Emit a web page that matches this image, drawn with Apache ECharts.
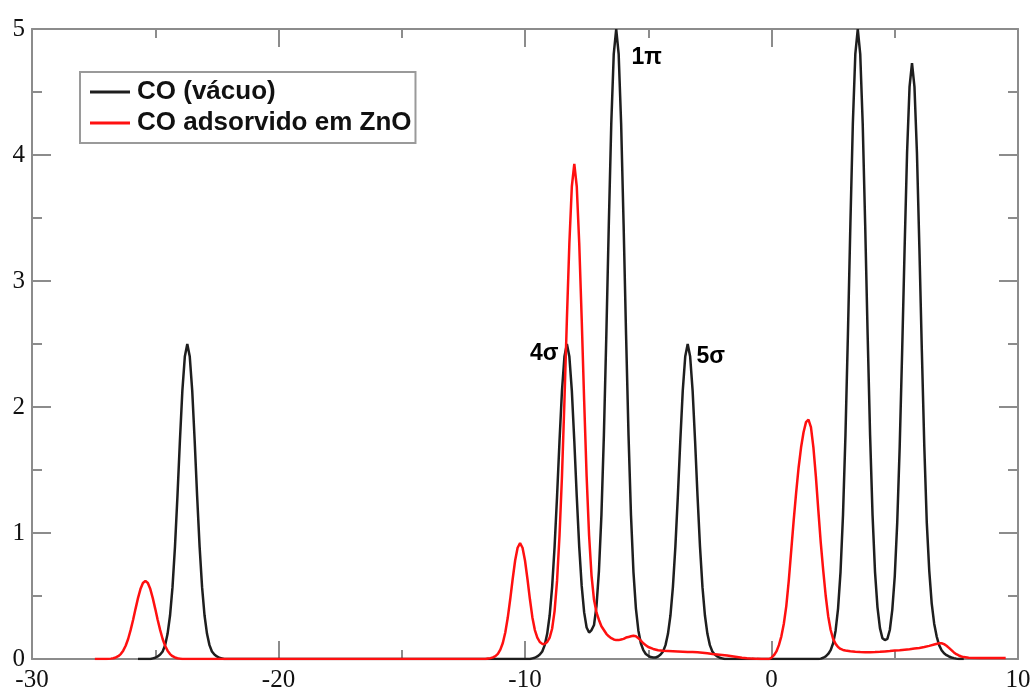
<!DOCTYPE html>
<html>
<head>
<meta charset="utf-8">
<script src="https://cdn.jsdelivr.net/npm/echarts@6/dist/echarts.min.js"></script>
<style>
  html, body { margin: 0; padding: 0; background: #ffffff; }
  #chart { width: 1035px; height: 693px; }
</style>
</head>
<body>
<div id="chart"></div>
<script>
// Density of states of CO: free molecule vs. adsorbed on ZnO
const seriesNames = ['CO (vácuo)', 'CO adsorvido em ZnO'];

// Energy axis (eV) and DOS axis ranges
const xRange = [-30, 10];
const xStep = 10;
const yRange = [0, 5];
const yStep = 1;

// CO in vacuum: [energy, DOS]
const vacuoDOS = [
  [-25.7, 0], [-25.2, 0], [-25.1, 0.005], [-25.0, 0.01], [-24.9, 0.02], [-24.8, 0.035],
  [-24.7, 0.06], [-24.6, 0.11], [-24.5, 0.2], [-24.4, 0.345], [-24.3, 0.57], [-24.2, 0.89],
  [-24.1, 1.29], [-24.0, 1.73], [-23.9, 2.13], [-23.8, 2.4], [-23.7, 2.5], [-23.6, 2.4],
  [-23.5, 2.13], [-23.4, 1.73], [-23.3, 1.29], [-23.2, 0.89], [-23.1, 0.57], [-23.0, 0.345],
  [-22.9, 0.2], [-22.8, 0.11], [-22.7, 0.06], [-22.6, 0.035], [-22.5, 0.02], [-22.4, 0.01],
  [-22.3, 0.005], [-22.2, 0],
  [-9.8, 0], [-9.7, 0.005], [-9.6, 0.01], [-9.5, 0.02], [-9.4, 0.035], [-9.3, 0.06],
  [-9.2, 0.11], [-9.1, 0.2], [-9.0, 0.345], [-8.9, 0.57], [-8.8, 0.89], [-8.7, 1.29],
  [-8.6, 1.73], [-8.5, 2.13], [-8.4, 2.4], [-8.3, 2.5], [-8.2, 2.4], [-8.1, 2.13],
  [-8.0, 1.73], [-7.9, 1.29], [-7.8, 0.89], [-7.7, 0.58], [-7.6, 0.37], [-7.5, 0.25],
  [-7.4, 0.21], [-7.3, 0.23], [-7.2, 0.27], [-7.1, 0.42], [-7.0, 0.7], [-6.9, 1.14],
  [-6.8, 1.775], [-6.7, 2.575], [-6.6, 3.45], [-6.5, 4.25], [-6.4, 4.8], [-6.3, 5.0],
  [-6.2, 4.8], [-6.1, 4.25], [-6.0, 3.45], [-5.9, 2.575], [-5.8, 1.775], [-5.7, 1.14],
  [-5.6, 0.69], [-5.5, 0.4], [-5.4, 0.225], [-5.3, 0.125], [-5.2, 0.07], [-5.1, 0.04],
  [-5.0, 0.025], [-4.9, 0.015], [-4.8, 0.012], [-4.7, 0.012], [-4.6, 0.02], [-4.5, 0.035],
  [-4.4, 0.06], [-4.3, 0.11], [-4.2, 0.2], [-4.1, 0.345], [-4.0, 0.57], [-3.9, 0.89],
  [-3.8, 1.29], [-3.7, 1.73], [-3.6, 2.13], [-3.5, 2.4], [-3.4, 2.5], [-3.3, 2.4],
  [-3.2, 2.13], [-3.1, 1.73], [-3.0, 1.29], [-2.9, 0.89], [-2.8, 0.57], [-2.7, 0.345],
  [-2.6, 0.2], [-2.5, 0.11], [-2.4, 0.06], [-2.3, 0.035], [-2.2, 0.02], [-2.1, 0.01],
  [-2.0, 0.005], [-1.9, 0],
  [1.9, 0], [2.0, 0.003], [2.1, 0.01], [2.2, 0.02], [2.3, 0.04], [2.4, 0.07],
  [2.5, 0.125], [2.6, 0.225], [2.7, 0.4], [2.8, 0.69], [2.9, 1.14], [3.0, 1.775],
  [3.1, 2.575], [3.2, 3.45], [3.3, 4.25], [3.4, 4.8], [3.5, 5.0], [3.6, 4.8],
  [3.7, 4.25], [3.8, 3.45], [3.9, 2.575], [4.0, 1.775], [4.1, 1.14], [4.2, 0.69],
  [4.3, 0.41], [4.4, 0.245], [4.5, 0.165], [4.6, 0.15], [4.7, 0.16], [4.8, 0.23],
  [4.9, 0.39], [5.0, 0.655], [5.1, 1.08], [5.2, 1.68], [5.3, 2.44], [5.4, 3.26],
  [5.5, 4.02], [5.6, 4.54], [5.7, 4.73], [5.8, 4.54], [5.9, 4.02], [6.0, 3.26],
  [6.1, 2.44], [6.2, 1.68], [6.3, 1.08], [6.4, 0.7], [6.5, 0.44], [6.6, 0.28],
  [6.7, 0.18], [6.8, 0.11], [6.9, 0.07], [7.0, 0.045], [7.1, 0.03], [7.2, 0.02],
  [7.3, 0.012], [7.4, 0.007], [7.5, 0.003], [7.6, 0], [7.8, 0]
];

// CO adsorbed on ZnO: [energy, DOS]
const znoDOS = [
  [-27.45, 0], [-27.0, 0], [-26.9, 0.001], [-26.8, 0.003], [-26.7, 0.006], [-26.6, 0.012],
  [-26.5, 0.022], [-26.4, 0.039], [-26.3, 0.066], [-26.2, 0.105], [-26.1, 0.159], [-26.0, 0.229],
  [-25.9, 0.31], [-25.8, 0.398], [-25.7, 0.483], [-25.6, 0.555], [-25.5, 0.603], [-25.4, 0.62],
  [-25.3, 0.603], [-25.2, 0.555], [-25.1, 0.483], [-25.0, 0.398], [-24.9, 0.31], [-24.8, 0.229],
  [-24.7, 0.159], [-24.6, 0.105], [-24.5, 0.066], [-24.4, 0.039], [-24.3, 0.022], [-24.2, 0.012],
  [-24.1, 0.006], [-24.0, 0.003], [-23.9, 0],
  [-11.6, 0], [-11.5, 0.004], [-11.4, 0.007], [-11.3, 0.013], [-11.2, 0.023], [-11.1, 0.041],
  [-11.0, 0.074], [-10.9, 0.127], [-10.8, 0.21], [-10.7, 0.327], [-10.6, 0.474], [-10.5, 0.635],
  [-10.4, 0.782], [-10.3, 0.883], [-10.2, 0.92], [-10.1, 0.883], [-10.0, 0.782], [-9.9, 0.635],
  [-9.8, 0.474], [-9.7, 0.33], [-9.6, 0.23], [-9.5, 0.17], [-9.4, 0.135], [-9.3, 0.12],
  [-9.2, 0.12], [-9.1, 0.135], [-9.0, 0.17], [-8.9, 0.24], [-8.8, 0.38], [-8.7, 0.62],
  [-8.6, 0.98], [-8.5, 1.45], [-8.4, 2.05], [-8.3, 2.7], [-8.2, 3.3], [-8.1, 3.75],
  [-8.0, 3.93], [-7.9, 3.75], [-7.8, 3.3], [-7.7, 2.7], [-7.6, 2.05], [-7.5, 1.45],
  [-7.4, 0.98], [-7.3, 0.66], [-7.2, 0.47], [-7.1, 0.37], [-7.0, 0.31], [-6.9, 0.26],
  [-6.8, 0.23], [-6.7, 0.2], [-6.6, 0.18], [-6.5, 0.165], [-6.4, 0.155], [-6.3, 0.15],
  [-6.2, 0.15], [-6.1, 0.155], [-6.0, 0.16], [-5.9, 0.17], [-5.8, 0.175], [-5.7, 0.18],
  [-5.6, 0.185], [-5.5, 0.18], [-5.4, 0.165], [-5.3, 0.145], [-5.2, 0.125], [-5.1, 0.11],
  [-5.0, 0.095], [-4.8, 0.08], [-4.6, 0.07], [-4.4, 0.066], [-4.2, 0.064], [-4.0, 0.062],
  [-3.8, 0.06], [-3.6, 0.058], [-3.4, 0.056], [-3.2, 0.055], [-3.0, 0.053], [-2.8, 0.05],
  [-2.6, 0.045], [-2.4, 0.04], [-2.2, 0.036], [-2.0, 0.032], [-1.8, 0.028], [-1.6, 0.022],
  [-1.4, 0.016], [-1.2, 0.01], [-1.0, 0.006], [-0.8, 0.003], [-0.6, 0.001], [-0.4, 0],
  [-0.1, 0], [0.0, 0.01], [0.1, 0.03], [0.2, 0.06], [0.3, 0.11], [0.4, 0.18],
  [0.5, 0.28], [0.6, 0.42], [0.7, 0.62], [0.8, 0.86], [0.9, 1.1], [1.0, 1.32],
  [1.1, 1.52], [1.2, 1.68], [1.3, 1.8], [1.4, 1.88], [1.5, 1.9], [1.6, 1.84],
  [1.7, 1.68], [1.8, 1.45], [1.9, 1.18], [2.0, 0.92], [2.1, 0.7], [2.2, 0.5],
  [2.3, 0.34], [2.4, 0.23], [2.5, 0.16], [2.6, 0.12], [2.7, 0.095], [2.8, 0.08],
  [2.9, 0.072], [3.0, 0.068], [3.2, 0.062], [3.4, 0.058], [3.6, 0.055], [3.8, 0.054],
  [4.0, 0.054], [4.2, 0.055], [4.4, 0.057], [4.6, 0.06], [4.8, 0.063], [5.0, 0.067],
  [5.2, 0.07], [5.4, 0.074], [5.6, 0.078], [5.8, 0.083], [6.0, 0.088], [6.2, 0.095],
  [6.4, 0.104], [6.6, 0.115], [6.8, 0.125], [6.9, 0.125], [7.0, 0.118], [7.1, 0.105],
  [7.2, 0.088], [7.3, 0.07], [7.4, 0.052], [7.5, 0.038], [7.6, 0.028], [7.7, 0.02],
  [7.8, 0.015], [8.0, 0.01], [8.5, 0.008], [9.0, 0.008], [9.5, 0.008]
];

// Molecular orbital annotations: [energy, DOS anchor, text, side]
const orbitalLabels = [
  [-5.68, 4.77, '1π', 'right'],
  [-8.64, 2.42, '4σ', 'left'],
  [-3.04, 2.40, '5σ', 'right']
];

const axisGray = '#8c8c8c';
const tickLine = { color: axisGray, width: 2 };

function makeXAxis(position, showLabels) {
  return {
    type: 'value', position: position,
    min: xRange[0], max: xRange[1], interval: xStep,
    axisLine: { show: true, onZero: false, lineStyle: { color: axisGray, width: 2 } },
    axisTick: { show: true, inside: true, length: 18, lineStyle: tickLine },
    minorTick: { show: true, splitNumber: 2, length: 9, lineStyle: tickLine },
    splitLine: { show: false },
    minorSplitLine: { show: false },
    axisLabel: {
      show: showLabels, margin: 9, showMinLabel: true, showMaxLabel: true,
      fontFamily: 'Liberation Serif', fontSize: 25, color: '#111'
    }
  };
}

function makeYAxis(position, showLabels) {
  return {
    type: 'value', position: position,
    min: yRange[0], max: yRange[1], interval: yStep,
    axisLine: { show: true, onZero: false, lineStyle: { color: axisGray, width: 2 } },
    axisTick: { show: true, inside: true, length: 19, lineStyle: tickLine },
    minorTick: { show: true, splitNumber: 2, length: 10, lineStyle: tickLine },
    splitLine: { show: false },
    minorSplitLine: { show: false },
    axisLabel: {
      show: showLabels, margin: 7, showMinLabel: true, showMaxLabel: true,
      fontFamily: 'Liberation Serif', fontSize: 25, color: '#111'
    }
  };
}

const chart = echarts.init(document.getElementById('chart'), null, { renderer: 'canvas' });

chart.setOption({
  animation: false,
  backgroundColor: '#ffffff',
  grid: { left: 32, right: 17, top: 29, bottom: 30, containLabel: false },
  xAxis: [makeXAxis('bottom', true), makeXAxis('top', false)],
  yAxis: [makeYAxis('left', true), makeYAxis('right', false)],
  legend: {
    orient: 'vertical', left: 80, top: 72,
    selectedMode: false,
    backgroundColor: '#ffffff',
    borderColor: '#9a9a9a', borderWidth: 2,
    padding: [7, 4, 7, 10],
    itemGap: 5, itemWidth: 40, itemHeight: 3,
    textStyle: {
      fontFamily: 'Liberation Sans', fontWeight: 'bold', fontSize: 26, color: '#111',
      padding: [0, 0, 0, 2]
    },
    data: [
      { name: seriesNames[0], icon: 'rect' },
      { name: seriesNames[1], icon: 'rect' }
    ]
  },
  series: [
    {
      name: seriesNames[0], type: 'line', data: vacuoDOS,
      xAxisIndex: 0, yAxisIndex: 0,
      showSymbol: false, symbol: 'none', smooth: false,
      color: '#1e1e1e',
      lineStyle: { color: '#1e1e1e', width: 2.5 },
      z: 2
    },
    {
      name: seriesNames[1], type: 'line', data: znoDOS,
      xAxisIndex: 0, yAxisIndex: 0,
      showSymbol: false, symbol: 'none', smooth: false,
      color: '#ff1010',
      lineStyle: { color: '#ff1010', width: 2.5 },
      z: 3
    },
    {
      name: 'orbitais', type: 'scatter',
      xAxisIndex: 0, yAxisIndex: 0,
      symbolSize: 0, silent: true, z: 4,
      itemStyle: { opacity: 1 },
      data: orbitalLabels.map(function (o) {
        return {
          value: [o[0], o[1]],
          label: {
            show: true, position: o[3], distance: 0,
            formatter: o[2],
            fontFamily: 'Liberation Sans', fontWeight: 'bold', fontSize: 23, color: '#000',
            opacity: 1
          }
        };
      })
    }
  ]
});
</script>
</body>
</html>
